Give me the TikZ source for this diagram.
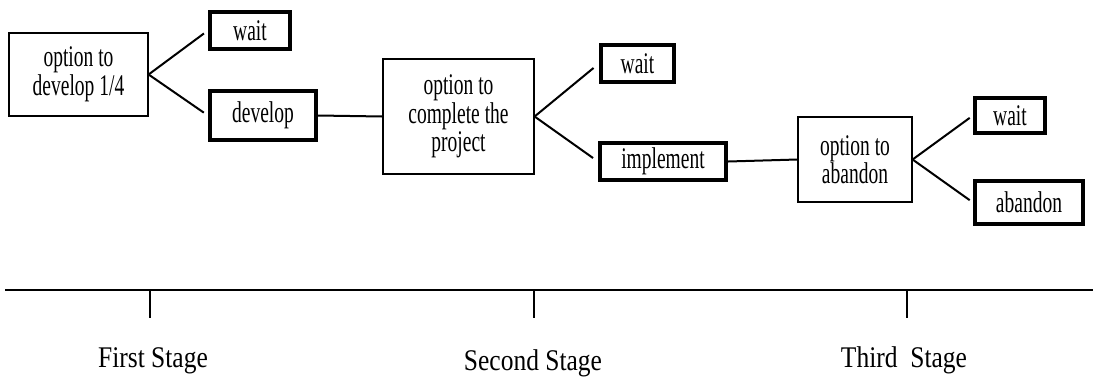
\documentclass[tikz,border=0pt]{standalone}
\usepackage{fontspec}
\setmainfont{Liberation Serif}
\newfontfamily\boxfont[FakeStretch=0.65]{Liberation Serif}
\newfontfamily\stagefont[FakeStretch=0.85]{Liberation Serif}
\usetikzlibrary{calc}

\begin{document}
\begin{tikzpicture}[
  x=1pt, y=-1pt,
  opt/.style={draw, line width=1.2pt, align=center, inner sep=0pt, font=\boxfont\fontsize{30}{28.5}\selectfont},
  choice/.style={draw, line width=3.6pt, align=center, inner sep=0pt, font=\boxfont\fontsize{30}{28.5}\selectfont},
  branch/.style={line width=2pt},
  stage/.style={anchor=base, font=\stagefont\fontsize{30}{34}\selectfont},
]
\useasboundingbox (0,0) rectangle (1093,376);
% first stage
\node[opt, minimum width=139pt, minimum height=83pt] (opt1) at (78.5,74.5) {option to\\develop 1/4};
\node[choice, minimum width=80.5pt, minimum height=37.5pt] (wait1) at (250,30.5) {wait};
\node[choice, minimum width=106.5pt, minimum height=49.5pt] (dev) at (263,115.5) {develop};
% second stage
\node[opt, minimum width=151pt, minimum height=115pt] (opt2) at (458.5,116.5) {option to\\complete the\\project};
\node[choice, minimum width=73.5pt, minimum height=37.5pt] (wait2) at (637.5,63.5) {wait};
\node[choice, minimum width=126.5pt, minimum height=37.5pt] (impl) at (663,161.5) {implement};
% third stage
\node[opt, minimum width=114pt, minimum height=85pt] (opt3) at (855,159.5) {option to\\abandon};
\node[choice, minimum width=70.5pt, minimum height=35.5pt] (wait3) at (1010,115.5) {wait};
\node[choice, minimum width=108.5pt, minimum height=43.5pt] (aband) at (1029,202.5) {abandon};
% branches
\draw[branch, shorten >=5pt] (opt1.east) -- (wait1.west);
\draw[branch, shorten >=5pt] (opt1.east) -- (dev.west);
\draw[branch] (dev.east) -- (opt2.west);
\draw[branch, shorten >=7pt] (opt2.east) -- (wait2.west);
\draw[branch, shorten >=6pt] (opt2.east) -- (impl.west);
\draw[branch] (impl.east) -- (opt3.west);
\draw[branch, shorten >=4pt] (opt3.east) -- (wait3.west);
\draw[branch, shorten >=4pt] (opt3.east) -- (aband.west);
% time line
\coordinate (t0) at (5,290);
\coordinate (t4) at (1093,290);
\coordinate (t1) at (150,290);
\coordinate (t2) at (534,290);
\coordinate (t3) at (907,290);
\draw[line width=2.5pt] (t0) -- (t4);
\foreach \t in {t1,t2,t3}
  \draw[line width=1.2pt] (\t) -- ++(0,28);
\node[stage] (s1) at (153,367) {First Stage};
\node[stage] (s2) at (533,370) {Second Stage};
\node[stage] (s3) at (904,367) {Third\ \ Stage};
\end{tikzpicture}
\end{document}
